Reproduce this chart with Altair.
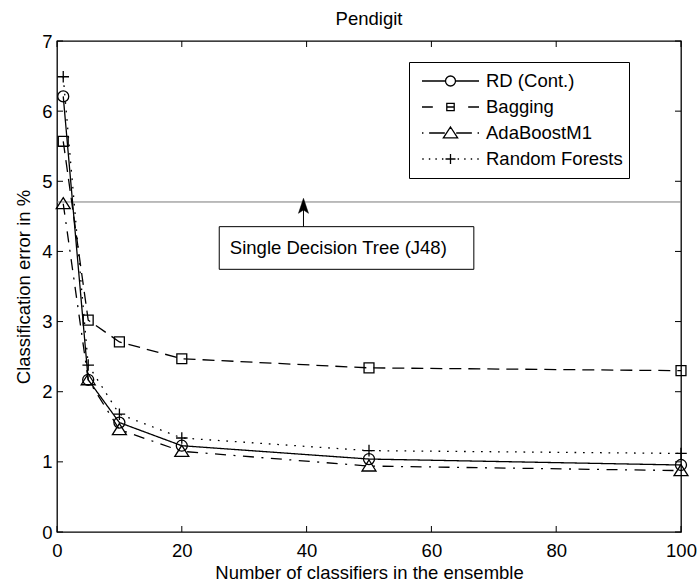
import altair as alt
import pandas as pd

# ---- data ----
n_classifiers = [1, 5, 10, 20, 50, 100]
rd_cont = [6.21, 2.17, 1.56, 1.23, 1.04, 0.955]
bagging = [5.57, 3.02, 2.71, 2.47, 2.34, 2.30]
adaboost = [4.68, 2.17, 1.46, 1.15, 0.94, 0.875]
random_forests = [6.49, 2.38, 1.68, 1.34, 1.16, 1.12]
series_names = ["RD (Cont.)", "Bagging", "AdaBoostM1", "Random Forests"]
x_ticks = [0, 20, 40, 60, 80, 100]
y_ticks = [0, 1, 2, 3, 4, 5, 6, 7]
j48_error = [4.705]
annotation_text = ["Single Decision Tree (J48)"]

FONT = "Liberation Sans"
FS = 18.5
W, H = 624, 491

rows = []
for name, vals in zip(series_names, [rd_cont, bagging, adaboost, random_forests]):
    for n, v in zip(n_classifiers, vals):
        rows.append({"series": name, "n": n, "err": v})
df = pd.DataFrame(rows)

xs = alt.Scale(domain=[0, 100], nice=False, zero=False)
ys = alt.Scale(domain=[0, 7], nice=False, zero=False)

x_axis = alt.Axis(values=x_ticks, ticks=False, domain=False, grid=False, format="d", labelFlush=False,
                  labelPadding=9, title="Number of classifiers in the ensemble", titlePadding=4)
y_axis = alt.Axis(values=y_ticks, ticks=False, domain=False, grid=False, format="d", labelFlush=False,
                  labelPadding=5, title="Classification error in %", titlePadding=8)


def X(*args, **kw):
    return alt.X(*args, scale=xs, axis=x_axis, **kw)


def Y(*args, **kw):
    return alt.Y(*args, scale=ys, axis=y_axis, **kw)


dash_range = [[1, 0], [12, 7], [11, 7.5, 2, 7.5], [1.7, 6.8]]
marker_paths = [
    "M1,0A1,1,0,1,1,-1,0A1,1,0,1,1,1,0Z",
    "M-0.9,-0.9L0.9,-0.9L0.9,0.9L-0.9,0.9Z",
    "M0,-1.1L1.27,0.9L-1.27,0.9Z",
    "M-1.05,0L1.05,0M0,-1.05L0,1.05",
]
legend_paths = [
    "M-1,0L-0.175,0M0.175,0L1,0M0.175,0A0.175,0.175,0,1,1,-0.175,0A0.175,0.175,0,1,1,0.175,0",
    "M-1,0L-0.62,0M0.62,0L1,0M-0.13,-0.13L0.13,-0.13L0.13,0.13L-0.13,0.13ZM-0.13,0L0.13,0",
    "M-1,0L-0.95,0M-0.75,0L-0.2,0M0.2,0L0.75,0M0.95,0L1,0M0,-0.21L0.25,0.17L-0.25,0.17Z",
    "M-0.99,0L-0.94,0M-0.76,0L-0.71,0M-0.53,0L-0.48,0M-0.3,0L-0.25,0M-0.175,0L0.175,0M0,-0.175L0,0.175"
    "M0.25,0L0.3,0M0.48,0L0.53,0M0.71,0L0.76,0M0.94,0L0.99,0",
]

base = alt.Chart(df)

lines = base.mark_line(strokeWidth=1.3, color="black").encode(
    x=X("n:Q"),
    y=Y("err:Q"),
    detail="series:N",
    strokeDash=alt.StrokeDash("series:N", scale=alt.Scale(domain=series_names, range=dash_range), legend=None),
)

points = base.mark_point(filled=False, color="black", strokeWidth=1.3, size=121, opacity=1).encode(
    x=X("n:Q"),
    y=Y("err:Q"),
    shape=alt.Shape("series:N", scale=alt.Scale(domain=series_names, range=marker_paths), legend=None),
)

legend_layer = base.transform_filter("datum.n < 0").mark_point(
    filled=False, color="black", strokeWidth=1.3, opacity=1
).encode(
    x=X("n:Q"),
    y=Y("err:Q"),
    shape=alt.Shape(
        "series:N",
        scale=alt.Scale(domain=series_names, range=legend_paths),
        legend=alt.Legend(
            title=None, orient="none", legendX=352, legendY=21, direction="vertical",
            symbolSize=3249, clipHeight=26, symbolOffset=6, labelOffset=6, padding=6,
            strokeColor="black", fillColor="white", labelFont=FONT, labelFontSize=FS,
            labelColor="black", symbolStrokeWidth=1.3, symbolStrokeColor="black",
            symbolFillColor="transparent", rowPadding=0, labelLimit=400,
        ),
    ),
)

hline = alt.Chart(pd.DataFrame({"e": j48_error})).mark_rule(color="#7a7a7a", strokeWidth=1).encode(
    y=Y("e:Q")
)

ann_df = pd.DataFrame({"label": annotation_text})
box = alt.Chart(ann_df).mark_rect(fill="white", stroke="black", strokeWidth=1).encode(
    x=X(datum=26.0), x2=alt.X2(datum=66.8),
    y=Y(datum=3.745), y2=alt.Y2(datum=4.353),
)
label = alt.Chart(ann_df).mark_text(align="left", baseline="middle", font=FONT, fontSize=FS, color="black").encode(
    x=X(datum=27.7),
    y=Y(datum=4.05),
    text="label:N",
)
shaft = alt.Chart(ann_df).mark_rule(color="black", strokeWidth=1).encode(
    x=X(datum=39.5),
    y=Y(datum=4.353), y2=alt.Y2(datum=4.6),
)
head = alt.Chart(ann_df).mark_point(
    shape="M0,-1L0.67,1L0,0.55L-0.67,1Z", filled=True, fill="black", stroke="black",
    strokeWidth=0.5, size=225, opacity=1,
).encode(
    x=X(datum=39.5),
    y=Y(datum=4.65),
)

xt = alt.Chart(pd.DataFrame({"v": x_ticks}))
yt = alt.Chart(pd.DataFrame({"v": y_ticks}))
tick_style = dict(color="black", strokeWidth=1)
xt_bottom = xt.mark_rule(**tick_style).encode(x=X("v:Q"), y=alt.value(H), y2=alt.value(H - 6))
xt_top = xt.mark_rule(**tick_style).encode(x=X("v:Q"), y=alt.value(0), y2=alt.value(6))
yt_left = yt.mark_rule(**tick_style).encode(y=Y("v:Q"), x=alt.value(0), x2=alt.value(6))
yt_right = yt.mark_rule(**tick_style).encode(y=Y("v:Q"), x=alt.value(W), x2=alt.value(W - 6))

chart = alt.layer(
    hline, box, label, shaft, head, lines, points, legend_layer,
    xt_bottom, xt_top, yt_left, yt_right,
).resolve_scale(shape="independent").properties(
    width=W, height=H,
    background="white",
    title=alt.TitleParams("Pendigit", font=FONT, fontSize=FS, fontWeight="normal", color="black",
                          anchor="middle", offset=4),
    autosize=alt.AutoSizeParams(type="none"),
    padding={"left": 57, "top": 41, "right": 17, "bottom": 51},
).configure_view(stroke="black", strokeWidth=1.3).configure_axis(
    labelFont=FONT, labelFontSize=FS, labelColor="black",
    titleFont=FONT, titleFontSize=FS, titleColor="black", titleFontWeight="normal",
)

chart.save("out.html", embed_options={"renderer": "svg", "actions": False})
